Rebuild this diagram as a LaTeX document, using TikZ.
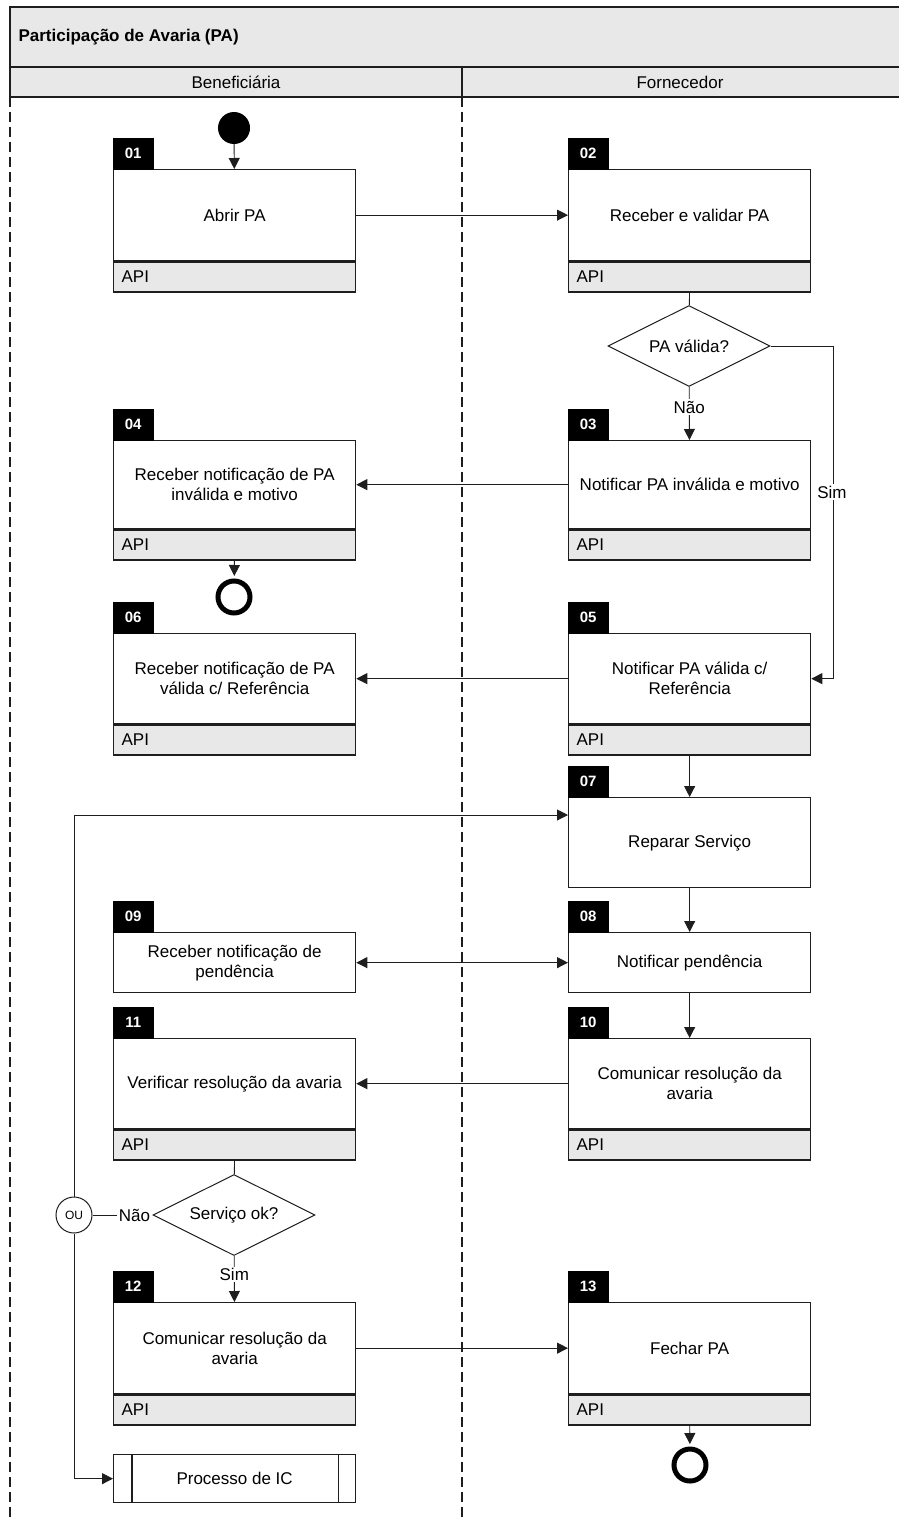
\documentclass[tikz,border=0pt]{standalone}
\usepackage{fontspec}
\setmainfont{Liberation Sans}
\usetikzlibrary{arrows.meta,shapes.geometric,calc}
\definecolor{hdr}{HTML}{E8E8E8}
\definecolor{ln}{HTML}{1E1E1E}
\tikzset{
  every node/.style={font=\fontsize{17}{20}\selectfont},
  mainbox/.style={draw=ln, line width=1.3pt, fill=white, minimum width=242, inner sep=0, anchor=north west, align=center},
  tabbox/.style={draw=black, fill=black, text=white, font=\fontsize{15}{18}\selectfont\bfseries, minimum width=40, minimum height=31, inner sep=0, anchor=south west},
  apibox/.style={draw=ln, line width=1.3pt, fill=hdr, text width=226, inner xsep=8, inner ysep=0, minimum height=30, anchor=north west, align=left},
  tip/.style={Triangle[length=11pt,width=11pt]},
  arr/.style={draw=ln, line width=0.9pt, -{Triangle[length=11pt,width=11pt]}},
  conn/.style={draw=ln, line width=0.9pt},
  lbl/.style={fill=white, inner sep=1.5pt},
  decision/.style={draw=ln, line width=1pt, diamond, shape aspect=2, inner sep=0, minimum width=162, minimum height=81, fill=white},
  lane/.style={draw=ln, line width=1.5pt, dash pattern=on 10pt off 5pt},
  endcirc/.style={draw=black, circle, line width=5pt, minimum size=32, inner sep=0},
}
\newcommand\procbox[6]{%
  \node[mainbox, minimum height=#4] (#1) at (#2,#3) {#6};
  \node[tabbox] (#1t) at (#1.north west) {#5};
}
\newcommand\apiband[1]{\node[apibox] (#1a) at (#1.south west) {API};}
\begin{document}
\begin{tikzpicture}[x=1pt,y=-1pt]
\useasboundingbox (0,0) rectangle (898,1517);
% pool header
\draw[ln, line width=1.5pt, fill=hdr] (10,7) rectangle (905,67);
\node[anchor=west, font=\fontsize{17}{20}\selectfont\bfseries] (title) at (15,37) {Participação de Avaria (PA)};
\draw[ln, line width=1.5pt, fill=hdr] (10,67) rectangle (462,97);
\draw[ln, line width=1.5pt, fill=hdr] (462,67) rectangle (905,97);
\node (lane1) at (236,82) {Beneficiária};
\node (lane2) at (680,82) {Fornecedor};
\draw[lane] (10,97) -- (10,1520);
\draw[lane] (462,97) -- (462,1520);

% boxes
\procbox{b01}{113}{169}{91}{01}{Abrir PA}\apiband{b01}
\procbox{b02}{568}{169}{91}{02}{Receber e validar PA}\apiband{b02}
\procbox{b04}{113}{440}{88}{04}{Receber notificação de PA\\inválida e motivo}\apiband{b04}
\procbox{b03}{568}{440}{88}{03}{Notificar PA inválida e motivo}\apiband{b03}
\procbox{b06}{113}{633}{90}{06}{Receber notificação de PA\\válida c/ Referência}\apiband{b06}
\procbox{b05}{568}{633}{90}{05}{Notificar PA válida c/\\Referência}\apiband{b05}
\procbox{b07}{568}{797}{90}{07}{Reparar Serviço}
\procbox{b09}{113}{932}{60}{09}{Receber notificação de\\pendência}
\procbox{b08}{568}{932}{60}{08}{Notificar pendência}
\procbox{b11}{113}{1038}{90}{11}{Verificar resolução da avaria}\apiband{b11}
\procbox{b10}{568}{1038}{90}{10}{Comunicar resolução da\\avaria}\apiband{b10}
\procbox{b12}{113}{1302}{91}{12}{Comunicar resolução da\\avaria}\apiband{b12}
\procbox{b13}{568}{1302}{91}{13}{Fechar PA}\apiband{b13}

% sub-process
\node[mainbox, minimum height=48] (ic) at (113,1454) {Processo de IC};
\draw[ln, line width=1.1pt] ($(ic.north west)+(19,0)$) -- ($(ic.south west)+(19,0)$);
\draw[ln, line width=1.1pt] ($(ic.north east)+(-18,0)$) -- ($(ic.south east)+(-18,0)$);

% start / end
\node[circle, fill=black, minimum size=32, inner sep=0] (start) at (234,128) {};
\node[endcirc] (end1) at (234,597) {};
\node[endcirc] (end2) at (690,1465) {};

% decisions
\node[decision] (d1) at (689,346) {PA válida?};
\node[decision] (d2) at (234,1215) {Serviço ok?};
\node[draw=ln, line width=1pt, circle, minimum size=36, inner sep=0, font=\fontsize{12}{14}\selectfont, fill=white] (ou) at (74,1215) {OU};

% connectors
\draw[arr] (start) -- (b01);
\draw[arr] (b01) -- (b02);
\draw[conn] (b02a) -- (d1);
\draw[arr] (d1) -- node[lbl, pos=0.38] (nao1) {Não} (b03);
\draw[arr] (d1.east) -- ++(63,0) |- (b05.east);
\node[lbl] (sim1) at (832,492) {Sim};
\draw[arr] (b03) -- (b04);
\draw[arr, shorten >=2.5pt] (b04a) -- (end1);
\draw[arr] (b05) -- (b06);
\draw[arr] (b05a) -- (b07);
\draw[arr] (ou.north) |- ($(b07.north west)+(0,18)$);
\draw[arr] (b07) -- (b08);
\draw[draw=ln, line width=0.9pt, {Triangle[length=11pt,width=11pt]}-{Triangle[length=11pt,width=11pt]}] (b09) -- (b08);
\draw[arr] (b08) -- (b10);
\draw[arr] (b10) -- (b11);
\draw[conn] (b11a) -- (d2);
\draw[conn] (d2) -- node[lbl, pos=0.3] (nao2) {Não} (ou);
\draw[arr] (d2) -- node[lbl, pos=0.4] (sim2) {Sim} (b12);
\draw[arr] (ou.south) |- (ic.west);
\draw[arr] (b12) -- (b13);
\draw[arr, shorten >=2.5pt] (b13a) -- (end2);
\end{tikzpicture}
\end{document}
